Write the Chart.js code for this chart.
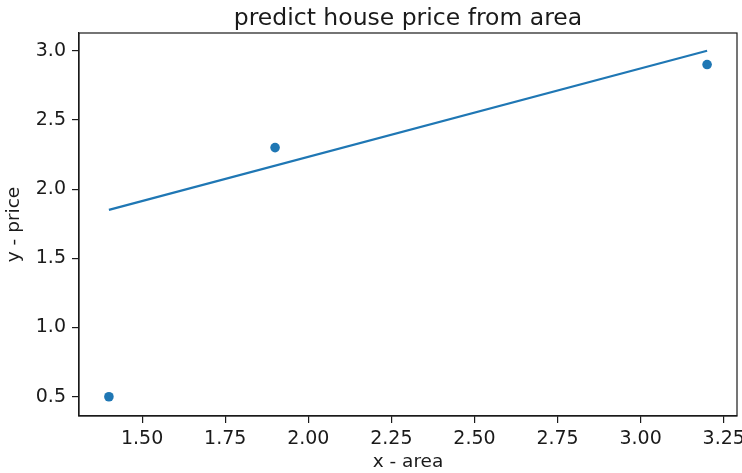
<!DOCTYPE html>
<html>
<head>
<meta charset="utf-8">
<script src="https://cdn.jsdelivr.net/npm/chart.js@4.4.1/dist/chart.umd.min.js"></script>
<style>
  html, body { margin: 0; padding: 0; background: #ffffff; }
  #wrap { width: 742px; height: 473px; position: relative; }
</style>
</head>
<body>
<div id="wrap"><canvas id="chart" width="742" height="473"></canvas></div>
<script>
// Observed houses: area vs price
const areaValues = [1.4, 1.9, 3.2];
const priceValues = [0.5, 2.3, 2.9];

// Fitted prediction line end points
const fitArea = [1.4, 3.2];
const fitPrice = [1.85, 3.0];

// Axis tick labels
const xTickValues = [1.50, 1.75, 2.00, 2.25, 2.50, 2.75, 3.00, 3.25];
const yTickValues = [0.5, 1.0, 1.5, 2.0, 2.5, 3.0];

const BLUE = '#1f77b4';
const INK = '#1a1a1a';
const FONT = 'DejaVu Sans';

// full frame around the plotting area, title centred over the plot
const frame = {
  id: 'frame',
  afterLayout(chart) {
    const t = chart.titleBlock;
    if (t) {
      t.left = chart.chartArea.left;
      t.right = chart.chartArea.right;
    }
  },
  afterDatasetsDraw(chart) {
    const { ctx, chartArea: a } = chart;
    ctx.save();
    ctx.strokeStyle = INK;
    ctx.lineWidth = 1.2;
    ctx.strokeRect(a.left, a.top, a.right - a.left, a.bottom - a.top);
    ctx.restore();
  }
};

new Chart(document.getElementById('chart'), {
  type: 'scatter',
  data: {
    datasets: [
      {
        type: 'line',
        label: 'prediction',
        data: fitArea.map((x, i) => ({ x, y: fitPrice[i] })),
        borderColor: BLUE,
        borderWidth: 2.2,
        pointRadius: 0,
        fill: false,
        tension: 0
      },
      {
        label: 'houses',
        data: areaValues.map((x, i) => ({ x, y: priceValues[i] })),
        backgroundColor: BLUE,
        borderColor: BLUE,
        borderWidth: 0,
        pointRadius: 4.8,
        pointHoverRadius: 4.8
      }
    ]
  },
  plugins: [frame],
  options: {
    responsive: false,
    animation: false,
    events: [],
    layout: { padding: { left: 0, right: 5, top: 0, bottom: 0 } },
    plugins: {
      legend: { display: false },
      tooltip: { enabled: false },
      title: {
        display: true,
        text: 'predict house price from area',
        color: INK,
        font: { family: FONT, size: 23.5, weight: 'normal' },
        padding: { top: 4.8, bottom: 0 }
      }
    },
    scales: {
      x: {
        type: 'linear',
        min: 1.31,
        max: 3.29,
        afterBuildTicks(scale) { scale.ticks = xTickValues.map(v => ({ value: v })); },
        afterFit(scale) {
          scale.height = 473 - 416;
          scale.paddingLeft = 0;
          scale.paddingRight = 0;
        },
        ticks: {
          color: INK,
          font: { family: FONT, size: 19 },
          padding: 5,
          maxRotation: 0,
          autoSkip: false,
          callback: v => Number(v).toFixed(2)
        },
        grid: { drawOnChartArea: false, drawTicks: true, tickLength: 7, color: INK, lineWidth: 1.2 },
        border: { display: true, color: INK, width: 1.2 },
        title: {
          display: true,
          text: 'x - area',
          color: INK,
          font: { family: FONT, size: 18.5 },
          padding: { top: 0, bottom: 0 }
        }
      },
      y: {
        type: 'linear',
        min: 0.361,
        max: 3.128,
        afterBuildTicks(scale) { scale.ticks = yTickValues.map(v => ({ value: v })); },
        afterFit(scale) { scale.width = 79; },
        ticks: {
          color: INK,
          font: { family: FONT, size: 19 },
          padding: 6,
          autoSkip: false,
          callback: v => Number(v).toFixed(1)
        },
        grid: { drawOnChartArea: false, drawTicks: true, tickLength: 7, color: INK, lineWidth: 1.2 },
        border: { display: true, color: INK, width: 1.2 },
        title: {
          display: true,
          text: 'y - price',
          color: INK,
          font: { family: FONT, size: 18.5 },
          padding: { top: 3.5, bottom: 0 }
        }
      }
    }
  }
});
</script>
</body>
</html>
